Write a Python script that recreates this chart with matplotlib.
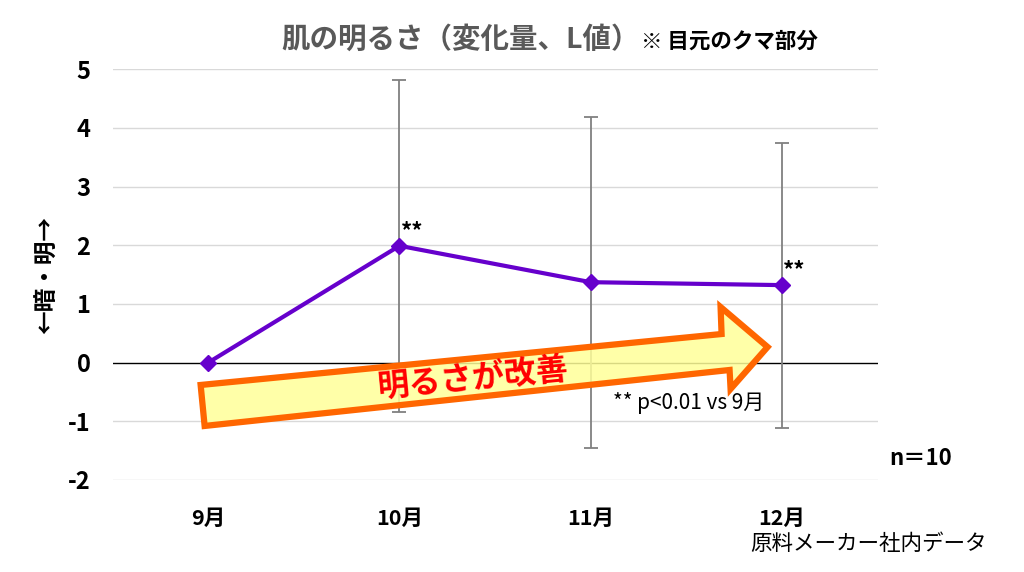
import matplotlib.pyplot as plt
from matplotlib.patches import Polygon
import numpy as np

plt.rcParams['font.family'] = ['Noto Sans CJK JP', 'DejaVu Sans']

# データ
months = ["9月", "10月", "11月", "12月"]
l_change = [0.0, 1.99, 1.37, 1.32]
l_sd = [0.0, 2.83, 2.82, 2.43]
signif = ["", "**", "", "**"]

fig = plt.figure(figsize=(10.24, 5.72), dpi=100)
ax = fig.add_axes([0.110, 0.161, 0.747, 0.718])

x = np.arange(len(months))

# 目盛り線
for v in range(-2, 6):
    if v == 0:
        ax.axhline(v, color='black', lw=1.0, zorder=1)
    else:
        ax.axhline(v, color='#D9D9D9', lw=1.0, zorder=0)

# エラーバー
for xi, m, s in zip(x, l_change, l_sd):
    if s > 0:
        ax.errorbar(xi, m, yerr=s, fmt='none', ecolor='#808080', elinewidth=1.3,
                    capsize=5, capthick=1.3, zorder=2)

ax.plot(x, l_change, color='#6600CC', lw=3, marker='D', markersize=8, zorder=4)

for xi, m, s in zip(x, l_change, signif):
    if s:
        ax.annotate(s, (xi, m), xytext=(1, 2), textcoords='offset points',
                    fontsize=16, fontweight='bold', ha='left', va='bottom')

ax.set_xlim(-0.5, 3.5)
ax.set_ylim(-2, 5)
ax.set_xticks(x)
ax.set_xticklabels(months, fontsize=15.5, fontweight='bold')
ax.set_yticks(range(-2, 6))
ax.set_yticklabels([str(v) for v in range(-2, 6)], fontsize=17, fontweight='bold')
ax.tick_params(length=0, pad=16)
ax.tick_params(axis='x', pad=20)
for sp in ax.spines.values():
    sp.set_visible(False)

ax.set_ylabel("←暗・明→", fontsize=17, fontweight='bold')
ax.yaxis.set_label_coords(-0.070, 0.5)

# 矢印（装飾）
def px(xp, yp):
    return ((xp - 113) / 765, (480 - yp) / 411)

arrow_pts = [px(201, 385), px(722, 334), px(721, 307), px(768, 347),
             px(731, 389), px(730, 370), px(205, 426)]
arrow = Polygon(arrow_pts, closed=True, transform=ax.transAxes,
                facecolor=(1.0, 1.0, 0.6, 0.85), edgecolor='#FF6600', lw=4.5,
                joinstyle='miter', zorder=5)
ax.add_patch(arrow)
tx, ty = px(474, 379)
ax.text(tx, ty, "明るさが改善", transform=ax.transAxes, rotation=5.5,
        rotation_mode='anchor', ha='center', va='center', color='#FF0000',
        fontsize=23, fontweight='bold', zorder=6)

ax.text(*px(689, 403), "** p<0.01 vs 9月", transform=ax.transAxes,
        fontsize=15, ha='center', va='center', zorder=6)

# タイトル
fig.text(0.625, 0.930, "肌の明るさ（変化量、L値）", fontsize=20.5, fontweight='bold',
         color='#595959', ha='right', va='center')
fig.text(0.626, 0.928, "※ 目元のクマ部分", fontsize=15.5, fontweight='bold',
         color='black', ha='left', va='center')

fig.text(0.899, 0.199, "n＝10", fontsize=16, fontweight='bold', ha='center', va='center')
fig.text(0.848, 0.049, "原料メーカー社内データ", fontsize=15.5, ha='center', va='center')

fig.savefig("out.png", dpi=100)
